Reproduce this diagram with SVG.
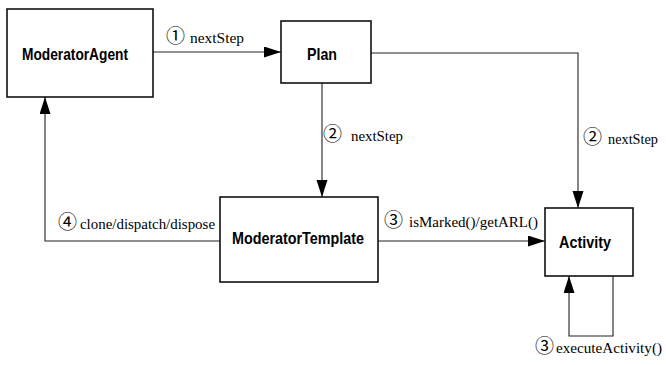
<svg xmlns="http://www.w3.org/2000/svg" width="666" height="365" viewBox="0 0 666 365">
  <style>
    .box { fill: #ffffff; stroke: #111111; stroke-width: 1.6; }
    .name { font-family: "Liberation Sans", Arial, sans-serif; font-weight: bold; font-size: 17px; fill: #000000; }
    .name.long { font-size: 16px; }
    .edge { fill: none; stroke: #222222; stroke-width: 1.1; }
    .label { font-family: "Liberation Serif", "Times New Roman", serif; font-size: 15px; fill: #000000; }
    .num { font-family: "Noto Sans CJK JP", "DejaVu Sans", sans-serif; font-size: 19px; }
  </style>
  <defs>
    <marker id="arrow" markerUnits="userSpaceOnUse" markerWidth="18" markerHeight="12" refX="17" refY="5.5" orient="auto">
      <path d="M0,0 L17,5.5 L0,11 Z" fill="#000000"/>
    </marker>
  </defs>

  <rect width="666" height="365" fill="#ffffff"/>

  <g id="connectors">
    <!-- 1: agent to plan -->
    <path class="edge" d="M153,52 H281" marker-end="url(#arrow)"/>
    <!-- 2: plan to template -->
    <path class="edge" d="M322,83 V197" marker-end="url(#arrow)"/>
    <!-- 2: plan to activity -->
    <path class="edge" d="M371,53 H578 V208" marker-end="url(#arrow)"/>
    <!-- 3: template to activity -->
    <path class="edge" d="M378,241 H545" marker-end="url(#arrow)"/>
    <!-- 4: template back to agent -->
    <path class="edge" d="M220,241 H45 V97" marker-end="url(#arrow)"/>
    <!-- 3: activity self loop -->
    <path class="edge" d="M613,276 V336 H569 V276" marker-end="url(#arrow)"/>

    <text class="label" y="43"><tspan class="num" x="166">①</tspan><tspan x="190" textLength="54" lengthAdjust="spacingAndGlyphs">nextStep</tspan></text>
    <text class="label" y="141"><tspan class="num" x="323">②</tspan><tspan x="351" textLength="52" lengthAdjust="spacingAndGlyphs">nextStep</tspan></text>
    <text class="label" y="144"><tspan class="num" x="583">②</tspan><tspan x="608" textLength="50" lengthAdjust="spacingAndGlyphs">nextStep</tspan></text>
    <text class="label" y="227"><tspan class="num" x="384">③</tspan><tspan x="409" textLength="129" lengthAdjust="spacingAndGlyphs">isMarked()/getARL()</tspan></text>
    <text class="label" y="229"><tspan class="num" x="58">④</tspan><tspan x="80" textLength="135" lengthAdjust="spacingAndGlyphs">clone/dispatch/dispose</tspan></text>
    <text class="label" y="353"><tspan class="num" x="535">③</tspan><tspan x="556" textLength="106" lengthAdjust="spacingAndGlyphs">executeActivity()</tspan></text>
  </g>

  <g id="moderator-agent">
    <rect class="box" x="7" y="9" width="146" height="88"/>
    <text class="name" x="22" y="60" textLength="106" lengthAdjust="spacingAndGlyphs">ModeratorAgent</text>
  </g>

  <g id="plan">
    <rect class="box" x="281" y="21" width="90" height="62"/>
    <text class="name" x="307" y="60" textLength="30" lengthAdjust="spacingAndGlyphs">Plan</text>
  </g>

  <g id="moderator-template">
    <rect class="box" x="220" y="197" width="158" height="85"/>
    <text class="name long" x="232" y="244" textLength="132" lengthAdjust="spacingAndGlyphs">ModeratorTemplate</text>
  </g>

  <g id="activity">
    <rect class="box" x="545" y="208" width="88" height="68"/>
    <text class="name" x="559" y="248" textLength="52" lengthAdjust="spacingAndGlyphs">Activity</text>
  </g>
</svg>
